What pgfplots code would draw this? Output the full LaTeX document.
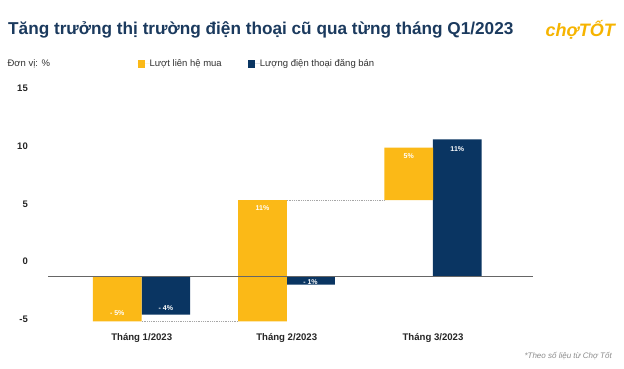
\documentclass[border=0pt]{standalone}
\usepackage{pgfplots}
\pgfplotsset{compat=1.18}
\usepackage{fontspec}
\setmainfont{Liberation Sans}
\definecolor{cy}{HTML}{FBB917}
\definecolor{cn}{HTML}{0A3562}
\definecolor{ct}{HTML}{1B3A5E}
\definecolor{clogo}{HTML}{F6B400}
\tikzset{vlab/.style={text=white, font=\fontsize{7}{8}\selectfont\bfseries, inner sep=0pt}}
\begin{document}
\begin{tikzpicture}[x=1pt,y=1pt]
\fill[white] (0,0) rectangle (624,368);
% ---- bars (stacked, invisible base gives the floating start) ----
\begin{axis}[
  at={(0,0)}, anchor=south west,
  scale only axis, width=624pt, height=368pt,
  xmin=0, xmax=624, ymin=-9.203, ymax=22.658,
  hide axis, clip=false,
  ybar stacked, stack negative=on previous, bar width=48.7pt,
  legend columns=2,
  legend style={at={(137.5/624,1-64/368)}, anchor=west, draw=none, fill=none,
    inner sep=0pt, outer sep=0pt, font=\fontsize{9.5}{11}\selectfont,
    nodes={inner sep=0pt, text=black!80},
    /tikz/every even column/.append style={column sep=26pt}},
  legend cell align=left,
]
\addplot[draw=none, fill=none, forget plot] coordinates
  {(117.2,-1.32) (165.85,-1.32) (262.5,-5.16) (310.5,-1.32) (408.8,5.34) (457.3,-1.32)};
\addplot[draw=none, fill=cy,
  legend image code/.code={\fill[cy] (0pt,-3.8pt) rectangle (7.5pt,3.8pt);\path (0pt,0pt) -- (12pt,0pt);}]
  coordinates
  {(117.2,-3.84) (165.85,0) (262.5,10.50) (310.5,0) (408.8,4.53) (457.3,0)};
\addlegendentry{Lượt liên hệ mua}
\addplot[draw=none, fill=cn,
  legend image code/.code={\fill[cn] (0pt,-3.8pt) rectangle (7.5pt,3.8pt);\path (0pt,0pt) -- (12pt,0pt);}]
  coordinates
  {(117.2,0) (165.85,-3.27) (262.5,0) (310.5,-0.67) (408.8,0) (457.3,11.92)};
\addlegendentry{Lượng điện thoại đăng bán}
\end{axis}
% ---- axis with ticks, baseline, connectors and value labels ----
\begin{axis}[
  at={(0,0)}, anchor=south west,
  scale only axis, width=624pt, height=368pt,
  xmin=0, xmax=624, ymin=-9.203, ymax=22.658,
  axis line style={draw=none}, tick style={draw=none}, major tick length=0pt,
  clip=false,
  ytick={-5,0,5,10,15}, yticklabels={-5,0,5,10,15},
  yticklabel style={font=\fontsize{9.5}{11}\selectfont\bfseries, anchor=east,
    inner sep=0pt, xshift=28pt, text=black!85},
  xtick={141.7,286.7,433},
  xticklabels={Tháng 1/2023, Tháng 2/2023, Tháng 3/2023},
  xticklabel style={font=\fontsize{9.6}{11}\selectfont\bfseries, anchor=center,
    inner sep=0pt, yshift=30pt, text=black!85},
]
\addplot[black!60, line width=1pt] coordinates {(48.3,-1.32) (532.7,-1.32)};
\addplot[black!35, line width=0.7pt, dash pattern=on 0.7pt off 1.1pt] coordinates {(141.7,-5.18) (238.3,-5.18)};
\addplot[black!35, line width=0.7pt, dash pattern=on 0.7pt off 1.1pt] coordinates {(286.7,5.34) (384.3,5.34)};
\node[vlab] at (axis cs:117.2,-4.44) {- 5\%};
\node[vlab] at (axis cs:165.85,-4.01) {- 4\%};
\node[vlab] at (axis cs:262.5,4.62) {11\%};
\node[vlab] at (axis cs:310.5,-1.73) {- 1\%};
\node[vlab] at (axis cs:408.8,9.15) {5\%};
\node[vlab] at (axis cs:457.3,9.73) {11\%};
\end{axis}
% ---- texts ----
\node[anchor=west, inner sep=0pt, text=ct, font=\fontsize{17.2}{20}\selectfont\bfseries] at (8,338) {Tăng trưởng thị trường điện thoại cũ qua từng tháng Q1/2023};
\node[anchor=west, inner sep=0pt, text=black!80, font=\fontsize{9.5}{11}\selectfont] at (7.3,304) {Đơn vị: \%};
\node[anchor=east, inner sep=0pt, text=clogo, font=\fontsize{18}{20}\selectfont\bfseries\itshape] at (615,338) {chợTỐT};
\node[anchor=east, inner sep=0pt, text=black!45, font=\fontsize{8}{9}\selectfont\itshape] at (612,12) {*Theo số liệu từ Chợ Tốt};
\pgfresetboundingbox
\path[use as bounding box] (0,0) rectangle (624,368);
\end{tikzpicture}
\end{document}
